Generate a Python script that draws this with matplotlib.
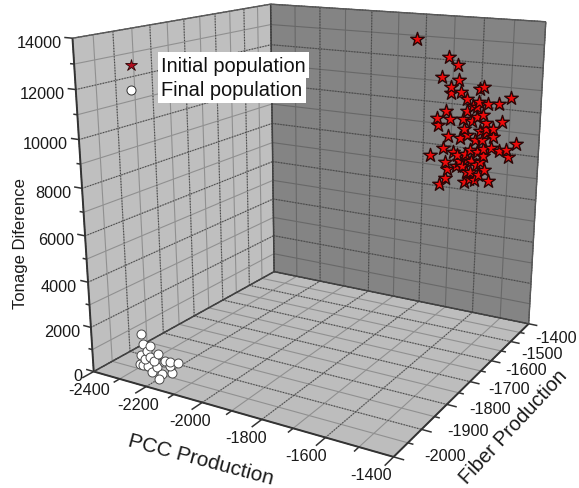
#%%
import numpy as np
import matplotlib
matplotlib.use('Agg')
import matplotlib.pyplot as plt
from matplotlib.lines import Line2D
from mpl_toolkits.mplot3d import proj3d
from mpl_toolkits.mplot3d.art3d import Poly3DCollection

plt.rcParams['font.family'] = ['Liberation Sans', 'DejaVu Sans']
#%%

#%%
W, H = 579, 489

x_lim = [-2400, -1400]
y_lim = [-2000, -1400]
z_lim = [0, 14000]

x_ticks = [-2400, -2200, -2000, -1800, -1600, -1400]
y_ticks = [-2000, -1900, -1800, -1700, -1600, -1500, -1400]
z_ticks = [0, 2000, 4000, 6000, 8000, 10000, 12000, 14000]

star_x = [-1755, -1645, -1615, -1665, -1610, -1635, -1635, -1540, -1525, -1600, -1580, -1440, -1475, -1510,
          -1540, -1545, -1580, -1650, -1680, -1675, -1635, -1590, -1545, -1515, -1465, -1490, -1535, -1585,
          -1640, -1600, -1550, -1525, -1490, -1655, -1700, -1495, -1445, -1415, -1440, -1470, -1520, -1560,
          -1600, -1580, -1645, -1640, -1590, -1515, -1645, -1665, -1580, -1565, -1545, -1500, -1560, -1540,
          -1620, -1561, -1525, -1561, -1513, -1575, -1513, -1574, -1542, -1605, -1530, -1573, -1610, -1535,
          -1520, -1565]
star_z = [13190, 12510, 12230, 11610, 11570, 11210, 10960, 11260, 11380, 11040, 10780, 11010, 10700, 10660,
          10720, 10460, 10260, 10130, 9790, 9480, 9810, 9880, 10050, 9820, 9920, 9590, 9450, 9450,
          9060, 9020, 9020, 9060, 9230, 8460, 8080, 8740, 8760, 9060, 8430, 8640, 8360, 8070,
          7990, 8330, 7840, 7540, 7790, 7740, 7120, 6800, 7070, 7230, 7240, 7270, 7540, 8470,
          8340, 9850, 10150, 10500, 9360, 9200, 9550, 8130, 7890, 8230, 8070, 7540, 7750, 7480,
          8660, 8550]
star_y = [-1500] * len(star_x)

circ_x = [-2280, -2275, -2250, -2260, -2285, -2220, -2145, -2290, -2270, -2235, -2195, -2175, -2260, -2245,
          -2210, -2170, -2200, -2200, -2280, -2225, -2175, -2250]
circ_y = [-1950, -1950, -1950, -1950, -1950, -1950, -1950, -1950, -1950, -1950, -1950, -1950, -1950, -1950,
          -1950, -1950, -1965, -1950, -1950, -1950, -1950, -1950]
circ_z = [1640, 1190, 1170, 910, 640, 920, 750, 230, 530, 570, 700, 530, 230, 20,
          40, 220, 0, 600, 200, 290, 680, 670]
#%%

#%%
fig = plt.figure(figsize=(W / 100, H / 100), dpi=100)
ax = fig.add_subplot(projection='3d', computed_zorder=False)
ax.set_xlim(*x_lim)
ax.set_ylim(*y_lim)
ax.set_zlim(*z_lim)
ax.view_init(elev=16.043, azim=-59.898)
ax.set_proj_type('persp', focal_length=0.361)
ax.set_box_aspect((1, 1.002, 0.996))
ax.set_axis_off()

# camera fit: pixels = t + s * projected coords
s, tx, ty = 3001.79, 322.36, 195.63
vl = ax.viewLim
left = tx + s * vl.x0
bottom = H - ty + s * vl.y0
ax.set_position([left / W, bottom / H, s * vl.width / W, s * vl.height / H])
#%%

#%%
x0, x1 = x_lim
y0, y1 = y_lim
z0, z1 = z_lim

left_wall = [(x0, y0, z0), (x0, y1, z0), (x0, y1, z1), (x0, y0, z1)]
back_wall = [(x0, y1, z0), (x1, y1, z0), (x1, y1, z1), (x0, y1, z1)]
floor = [(x0, y0, z0), (x1, y0, z0), (x1, y1, z0), (x0, y1, z0)]
for verts, col in [(left_wall, '#bfbfbf'), (back_wall, '#848484'), (floor, '#bdbdbd')]:
    ax.add_collection3d(Poly3DCollection([verts], facecolors=col, edgecolors='none', zorder=1, shade=False))


def seg(a, b, **kw):
    ax.plot([a[0], b[0]], [a[1], b[1]], [a[2], b[2]], solid_capstyle='butt', **kw)


def grid(a, b, major, light):
    seg(a, b, color=light, lw=0.8, zorder=2)
    if major:
        ax.plot([a[0], b[0]], [a[1], b[1]], [a[2], b[2]], color='#484848', lw=0.8, ls=(0, (1, 1.5)), zorder=3)


for i, x in enumerate(np.arange(x0, x1 + 1, 100)):
    grid((x, y0, z0), (x, y1, z0), i % 2 == 0, '#909090')
    grid((x, y1, z0), (x, y1, z1), i % 2 == 0, '#686868')
for i, y in enumerate(np.arange(y0, y1 + 1, 50)):
    grid((x0, y, z0), (x1, y, z0), i % 2 == 0, '#909090')
    grid((x0, y, z0), (x0, y, z1), i % 2 == 0, '#909090')
for i, z in enumerate(np.arange(z0, z1 + 1, 1000)):
    grid((x0, y0, z), (x0, y1, z), i % 2 == 0, '#909090')
    grid((x0, y1, z), (x1, y1, z), i % 2 == 0, '#686868')

# frame
for a, b in [(left_wall[0], left_wall[3]), (floor[0], floor[1]), (floor[1], floor[2])]:
    seg(a, b, color='#333333', lw=1.4, zorder=4)
for a, b in [(floor[3], floor[2]), (floor[3], floor[0]), (back_wall[0], back_wall[3])]:
    seg(a, b, color='#404040', lw=1.1, zorder=4)
for a, b in [(left_wall[3], left_wall[2]), (back_wall[3], back_wall[2]), (back_wall[2], back_wall[1])]:
    seg(a, b, color='#585858', lw=1.0, zorder=4)

# tick marks
for x in np.arange(x0, x1 + 1, 100):
    d = 30 if x in x_ticks else 16
    seg((x, y0, z0), (x, y0 - d, z0), color='#333333', lw=1.1, zorder=4)
for y in np.arange(y0, y1 + 1, 50):
    d = 30 if y in y_ticks else 16
    seg((x1, y, z0), (x1 + d, y, z0), color='#333333', lw=1.1, zorder=4)
for z in np.arange(z0, z1 + 1, 1000):
    d = 30 if z in z_ticks else 15
    seg((x0, y0, z), (x0 - d, y0, z), color='#333333', lw=1.1, zorder=4)
#%%

#%%
ax.scatter(circ_x, circ_y, circ_z, marker='o', s=42, c='white', edgecolors='#4a4a4a',
           linewidths=0.7, depthshade=False, zorder=5)
ax.scatter(star_x, star_y, star_z, marker='*', s=105, c='#ee0a0a', edgecolors='#2a0505',
           linewidths=1.0, depthshade=False, zorder=6)
#%%

#%%
M = ax.get_proj()


def label3d(x, y, z, text, dx, dy, **kw):
    px, py, _ = proj3d.proj_transform(x, y, z, M)
    ax.annotate(text, xy=(px, py), xycoords='data', xytext=(dx, dy), textcoords='offset pixels',
                fontsize=11.7, color='#1a1a1a', annotation_clip=False, zorder=7, **kw)


for z in z_ticks:
    label3d(x0, y0, z, str(z), -11, -4, ha='right', va='center')
for i, x in enumerate(x_ticks):
    f = i / (len(x_ticks) - 1)
    label3d(x, y0, z0, str(x), -5 - 18 * f, -18, ha='center', va='center')
for i, y in enumerate(y_ticks):
    f = i / (len(y_ticks) - 1)
    label3d(x1, y, z0, str(y), 51 - 24 * f, 1 - 15 * f, ha='center', va='center')


def fig_text(x, y, text, **kw):
    return fig.text(x / W, 1 - y / H, text, ha='center', va='center', rotation_mode='anchor', color='#1a1a1a', **kw)


fig_text(201, 460, 'PCC Production', fontsize=15, rotation=-15)
fig_text(513, 427, 'Fiber Production', fontsize=14.5, rotation=47)
fig_text(21, 244, 'Tonage Diference', fontsize=12, rotation=90)

# legend
for yy, name in [(66, 'Initial population'), (91, 'Final population')]:
    fig.text(161 / W, 1 - yy / H, name, fontsize=14.4, ha='left', va='center', color='#111111',
             bbox=dict(facecolor='white', edgecolor='none', pad=2.5))
fig.add_artist(Line2D([131 / W], [1 - 66 / H], marker='*', ms=9, mfc='#b00d1e', mec='#2a0505', mew=0.6,
                      ls='none', transform=fig.transFigure))
fig.add_artist(Line2D([131 / W], [1 - 91 / H], marker='o', ms=6.5, mfc='white', mec='#333333', mew=0.7,
                      ls='none', transform=fig.transFigure))

fig.savefig('out.png', dpi=100)
#%%
